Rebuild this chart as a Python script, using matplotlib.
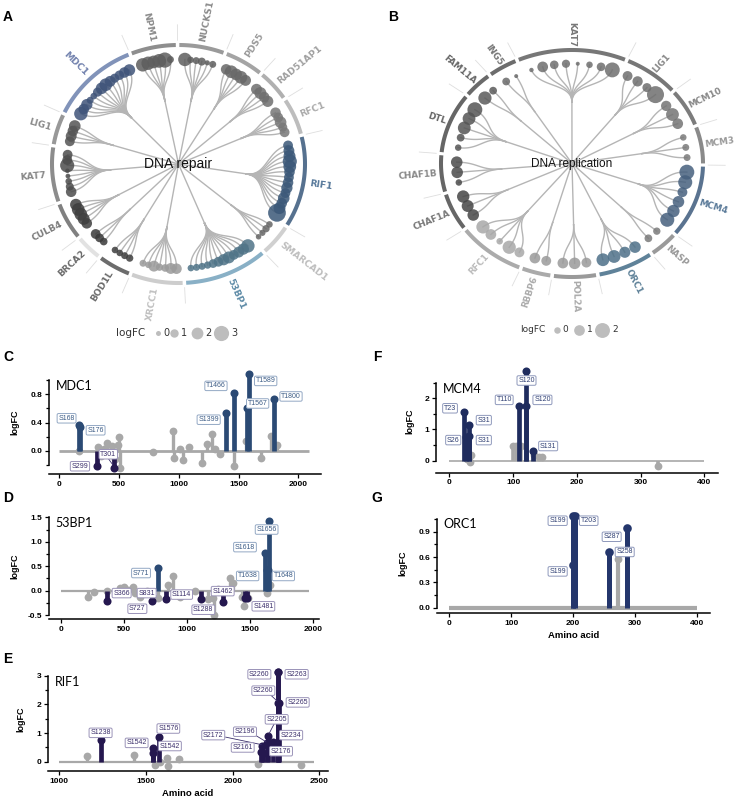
import numpy as np
import matplotlib
matplotlib.use("Agg")
import matplotlib.pyplot as plt

# ======================= DATA =======================
# Panel A : DNA repair (logFC of each phosphosite, grouped per gene, clockwise)
repair_genes = ["MDC1", "NPM1", "NUCKS1", "PDS5", "RAD51AP1", "RFC1", "RIF1", "SMARCAD1",
                "53BP1", "XRCC1", "BOD1L", "BRCA2", "CULB4", "KAT7", "LIG1"]
repair_logfc = [
    [2.2, 1.4, 1.6, 0.4, 0.3, 1.0, 1.7, 2.0, 1.5, 1.0, 1.1, 1.4, 1.7],      # MDC1
    [2.2, 2.2, 2.0, 2.3, 2.7, 0.4],                                          # NPM1
    [2.2, 0.3, 0.4, 0.7, -0.1, 0.4],                                         # NUCKS1
    [1.4, 2.0, 1.7, 2.0, 1.5],                                               # PDS5
    [1.5, 1.8, 1.4, 1.6],                                                    # RAD51AP1
    [1.4, 1.2, 1.7, 1.0, 1.2],                                               # RFC1
    [1.2, 1.5, 1.8, 2.4, 2.0, 1.4, 1.2, 1.4, 1.6, 1.2, 1.7, 1.4, 1.8, 3.4],  # RIF1
    [0.3, 0.5, 0.2, 0.0],                                                    # SMARCAD1
    [2.2, 1.6, 1.5, 1.2, 1.8, 1.6, 1.2, 0.9, 0.5, 0.4, 0.4, 0.3],            # 53BP1
    [1.4, 1.5, 0.6, 0.5, 1.5, 0.3, 0.4],                                     # XRCC1
    [0.5, 0.4, 0.3, 0.3],                                                    # BOD1L
    [0.6, 0.9, 1.2],                                                         # BRCA2
    [1.4, 1.8, 2.0, 2.0, 1.7],                                               # CULB4
    [1.4, 0.7, 0.3, -0.2, -0.3, 2.4, 1.2, 1.2],                              # KAT7
    [1.2, 1.5, 1.4, 1.7],                                                    # LIG1
]
repair_legend = [0, 1, 2, 3]

# Panel B : DNA replication
repl_genes = ["ING5", "KAT7", "LIG1", "MCM10", "MCM3", "MCM4", "NASP", "ORC1", "POL2A",
              "RBBP6", "RFC1", "CHAF1A", "CHAF1B", "DTL", "FAM11A"]
repl_logfc = [
    [0.3, -0.6],                                   # ING5
    [-0.5, 1.0, 0.5, 0.4, -0.6, 0.0, 0.5, 2.0],    # KAT7
    [0.8, 0.9, 0.6, 2.5],                          # LIG1
    [0.9, 1.5, 1.0],                               # MCM10
    [0.0, 0.1, 0.1],                               # MCM3
    [2.0, 1.8, 0.8, 1.2, 1.4, 1.8],                # MCM4
    [0.2, 0.3],                                    # NASP
    [1.2, 1.1, 1.5, 1.5],                          # ORC1
    [0.8, 1.2, 1.0],                               # POL2A
    [0.8, 1.0],                                    # RBBP6
    [0.8, 1.6, 0.0, 1.0, 1.6],                     # RFC1
    [1.2, 1.3, 1.4],                               # CHAF1A
    [0.0, 1.2, 1.2],                               # CHAF1B
    [0.0, 0.3, 1.5, 1.5, 2.0],                     # DTL
    [1.6, 0.3],                                    # FAM11A
]
repl_legend = [0, 1, 2]

# Panel C : MDC1
mdc1_gray_x = [167, 326, 350, 372, 396, 420, 440, 470, 490, 500, 508, 787, 954, 960, 1013, 1032,
               1088, 1191, 1238, 1278, 1303, 1345, 1462, 1562, 1685, 1769, 1819]
mdc1_gray_y = [0.0, 0.05, -0.08, 0.02, 0.11, -0.05, 0.06, -0.12, 0.08, 0.2, -0.25, -0.02, 0.28,
               -0.1, 0.02, -0.13, 0.05, -0.18, 0.09, 0.24, 0.02, -0.05, -0.22, 0.14, -0.11, 0.21, 0.08]
mdc1_up_x = [165, 176, 1399, 1466, 1567, 1589, 1800]
mdc1_up_y = [0.37, 0.33, 0.54, 0.82, 0.61, 1.09, 0.73]
mdc1_up_lab = ["S168", "S176", "S1399", "T1466", "T1567", "T1589", "T1800"]
mdc1_dn_x = [312, 457]
mdc1_dn_y = [-0.22, -0.24]
mdc1_dn_lab = ["S299", "T301"]
mdc1_len = 2089

# Panel D : 53BP1
bp1_gray_x = [217, 265, 363, 469, 500, 535, 570, 588, 628, 681, 773, 853, 893, 946, 1065, 1171,
              1210, 1216, 1250, 1343, 1370, 1436, 1457, 1489, 1634, 1661]
bp1_gray_y = [-0.12, -0.03, 0.0, 0.05, 0.07, 0.01, 0.07, -0.05, -0.12, 0.0, -0.15, 0.11, 0.3, -0.12,
              0.0, -0.18, -0.15, -0.49, 0.03, 0.26, 0.16, -0.12, -0.32, -0.15, -0.05, 0.12]
bp1_up_x = [771, 1618, 1656, 1638, 1648]
bp1_up_y = [0.47, 0.76, 1.42, 0.42, 0.42]
bp1_up_lab = ["S771", "S1618", "S1656", "T1638", "T1648"]
bp1_dn_x = [366, 727, 831, 1114, 1288, 1462, 1481]
bp1_dn_y = [-0.22, -0.22, -0.18, -0.18, -0.24, -0.15, -0.15]
bp1_dn_lab = ["S366", "S727", "S831", "S1114", "S1288", "S1462", "S1481"]
bp1_len = 1972

# Panel E : RIF1
rif1_gray_x = [1158, 1431, 1552, 1581, 1619, 1629, 1690, 2144, 2394]
rif1_gray_y = [0.2, 0.23, -0.12, 0.0, 0.12, -0.15, 0.09, -0.08, -0.12]
rif1_sig_x = [1238, 1538, 1542, 1577, 2161, 2172, 2176, 2196, 2205, 2234, 2260, 2263, 2260, 2265]
rif1_sig_y = [0.75, 0.47, 0.3, 0.85, 0.35, 0.55, 0.3, 0.65, 0.9, 0.7, 3.14, 3.14, 2.05, 2.05]
rif1_sig_lab = ["S1238", "S1542", "S1542", "S1576", "S2161", "S2172", "S2176", "S2196", "S2205",
                "S2234", "S2260", "S2263", "S2260", "S2265"]
rif1_range = [1000, 2472]

# Panel F : MCM4
mcm4_gray_x = [27, 32, 34, 100, 104, 108, 112, 132, 140, 146, 328]
mcm4_gray_y = [0.07, -0.03, 0.18, 0.47, 0.47, 0.47, 0.47, 0.18, 0.13, 0.13, -0.17]
mcm4_sig_x = [23, 26, 31, 31, 110, 120, 120, 131]
mcm4_sig_y = [1.55, 0.75, 1.15, 0.8, 1.76, 2.86, 1.76, 0.32]
mcm4_sig_lab = ["T23", "S26", "S31", "S31", "T110", "S120", "S120", "S131"]
mcm4_range = [0, 400]

# Panel G : ORC1
orc1_gray_x = [273]
orc1_gray_y = [0.58]
orc1_sig_x = [199, 203, 199, 258, 287]
orc1_sig_y = [1.09, 1.09, 0.5, 0.66, 0.94]
orc1_sig_lab = ["S199", "T203", "S199", "S258", "S287"]
orc1_range = [0, 400]

# ======================= STYLE =======================
W, H = 736, 801
fig = plt.figure(figsize=(W / 100, H / 100), dpi=100)
TICKFONT = "Liberation Sans"


def px_axes(left, top, right, bottom):
    ax = fig.add_axes([left / W, 1 - bottom / H, (right - left) / W, (bottom - top) / H])
    ax.set_facecolor("none")
    return ax


overlay = px_axes(0, 0, W, H)
overlay.set_xlim(0, W)
overlay.set_ylim(H, 0)
overlay.axis("off")

for letter, x, y in [("A", 8, 17), ("B", 393, 17), ("C", 8, 357), ("D", 8, 498),
                     ("E", 8, 659), ("F", 377, 357), ("G", 377, 498)]:
    overlay.text(x, y, letter, fontsize=10, fontweight="bold", family=TICKFONT,
                 ha="center", va="center")

LINK = "#b5b5b5"


def polar(theta_deg, r):
    t = np.deg2rad(theta_deg)
    return r * np.sin(t), r * np.cos(t)


def circle_panel(cx, cy, rx, ry, genes, vals, start, gap, ring_c, dot_c, lab_c,
                 title, title_fs, lab_fs, dmin, dscale, r_leaf=0.88, r_node=0.54, r_lab=1.04):
    ext = 1.6
    ax = px_axes(cx - ext * rx, cy - ext * ry, cx + ext * rx, cy + ext * ry)
    ax.set_xlim(-ext, ext)
    ax.set_ylim(-ext, ext)
    ax.axis("off")
    n_tot = sum(len(v) for v in vals)
    step = (360 - gap * len(genes)) / n_tot
    th = start
    rm = (r_node + r_leaf) / 2
    tt = np.linspace(0, 1, 40)[:, None]
    for i, g in enumerate(genes):
        n = len(vals[i])
        a0 = th
        a1 = th + gap + step * n
        th = a1
        mid = (a0 + a1) / 2
        arc = np.linspace(a0 + 0.8, a1 - 0.8, 80)
        x, y = polar(arc, 1.0)
        ax.plot(x, y, color=ring_c[i], lw=2.9, solid_capstyle="butt", zorder=2)
        bx, by = polar(np.array([a0, a0]), np.array([1.04, 1.17]))
        ax.plot(bx, by, color="#dedede", lw=0.6, zorder=1)
        nx, ny = polar(mid, r_node)
        ax.plot([0, nx], [0, ny], color=LINK, lw=1.0, zorder=1)
        leaf_th = a0 + gap / 2 + step * (np.arange(n) + 0.5)
        P0 = np.array(polar(mid, r_node))
        C1 = np.array(polar(mid, rm))
        for lt in leaf_th:
            C2 = np.array(polar(lt, rm))
            P3 = np.array(polar(lt, r_leaf))
            B = (1 - tt) ** 3 * P0 + 3 * (1 - tt) ** 2 * tt * C1 + 3 * (1 - tt) * tt ** 2 * C2 + tt ** 3 * P3
            ax.plot(B[:, 0], B[:, 1], color=LINK, lw=1.0, zorder=1)
        lx, ly = polar(leaf_th, r_leaf)
        d = np.maximum(dmin + dscale * np.array(vals[i], dtype=float), 1.5)
        ax.scatter(lx, ly, s=(d * 0.72) ** 2, color=dot_c[i], alpha=0.85, lw=0, zorder=3)
        sx, sy = polar(mid, r_lab)
        ang = np.degrees(np.arctan2(np.cos(np.radians(mid)) * ry, np.sin(np.radians(mid)) * rx))
        m = mid % 360
        if 0 < m < 180:
            rot, ha = ang, "left"
        else:
            rot, ha = ang + 180, "right"
        ax.text(sx, sy, g, rotation=rot, rotation_mode="anchor", ha=ha, va="center",
                fontsize=lab_fs, fontweight="bold", color=lab_c[i], family="DejaVu Sans", zorder=4)
    ax.text(0, 0, title, ha="center", va="center", fontsize=title_fs, family="Liberation Sans",
            color="#111111", zorder=5)
    return ax


# Panel A styles
A_ring = ["#8193b9", "#8e8e8e", "#9a9a9a", "#a4a4a4", "#b0b0b0", "#bdbdbd", "#56718f", "#d0d0d0",
          "#89b0c6", "#cdcdcd", "#6c6c6c", "#e2e2e2", "#808080", "#8c8c8c", "#989898"]
A_dot = ["#3f5479", "#5e5e5e", "#5e5e5e", "#686868", "#6e6e6e", "#777777", "#3b5878", "#666666",
         "#4f7387", "#9a9a9a", "#3e3e3e", "#3a3a3a", "#3e3e3e", "#4c4c4c", "#555555"]
A_lab = ["#7282ae", "#8a8a8a", "#8a8a8a", "#999999", "#a0a0a0", "#aaaaaa", "#56789a", "#bdbdbd",
         "#5c8aa6", "#c0c0c0", "#6a6a6a", "#6a6a6a", "#7a7a7a", "#888888", "#8a8a8a"]
circle_panel(178.5, 164, 126.5, 119, repair_genes, repair_logfc, 295, 4.5, A_ring, A_dot, A_lab,
             "DNA repair", 10, 6.6, 5.5, 3.6, r_lab=1.05)

# Panel B styles
B_ring = ["#6c6c6c", "#777777", "#777777", "#7c7c7c", "#8a8a8a", "#5a7390", "#9a9a9a", "#5f8299",
          "#9a9a9a", "#aaaaaa", "#ababab", "#666666", "#666666", "#666666", "#6a6a6a"]
B_dot = ["#6a6a6a", "#6e6e6e", "#6e6e6e", "#747474", "#7a7a7a", "#46607e", "#7a7a7a", "#4d7088",
         "#9a9a9a", "#9a9a9a", "#a8a8a8", "#454545", "#4a4a4a", "#555555", "#5a5a5a"]
B_lab = ["#777777", "#777777", "#888888", "#888888", "#999999", "#5a7a99", "#999999", "#5f8299",
         "#aaaaaa", "#aaaaaa", "#bbbbbb", "#777777", "#888888", "#666666", "#666666"]
circle_panel(572, 163.5, 131, 113.5, repl_genes, repl_logfc, 321, 2.5, B_ring, B_dot, B_lab,
             "DNA replication", 8.5, 6.3, 6.5, 4.2, r_lab=1.03)

# size legends
overlay.text(131, 333, "logFC", ha="center", va="center", fontsize=7.5, color="#333333", family="DejaVu Sans")
for v, x in zip(repair_legend, [158, 174, 197, 221]):
    d = 5 + 3.4 * v
    overlay.scatter([x], [333], s=(d * 0.72) ** 2, color="#bdbdbd", lw=0)
    overlay.text(x + d / 2 + 2.5, 333, str(v), ha="left", va="center", fontsize=7, color="#333333")
overlay.text(533, 330, "logFC", ha="center", va="center", fontsize=6.5, color="#333333", family="DejaVu Sans")
for v, x in zip(repl_legend, [557, 579, 602]):
    d = 6.5 + 4.2 * v
    overlay.scatter([x], [330], s=(d * 0.72) ** 2, color="#bdbdbd", lw=0)
    overlay.text(x + d / 2 + 2.5, 330, str(v), ha="left", va="center", fontsize=6.5, color="#333333")

# ---------------- lollipop panels ----------------
GRAY = "#a8a8a8"
BLUE = "#2b4a74"
PURP = "#25184f"
NAVY = "#1f2c5e"
STY = {
    "blue": ("#3b5b85", "#93a8c4"),
    "purp": ("#3a2e6a", "#9a93b8"),
    "navy": ("#2f3f73", "#8e98bb"),
}


def setup(box, xlim, ylim, spine_b, xticks, yticks, ytl, yminor, name, ylab_px, xlabel=False):
    left, top, right, bottom = box
    ax = px_axes(left, top, right, bottom)
    ax.set_xlim(xlim)
    ax.set_ylim(ylim)
    for s in ["top", "right"]:
        ax.spines[s].set_visible(False)
    ax.spines["left"].set_bounds(*spine_b)
    for s in ["left", "bottom"]:
        ax.spines[s].set_linewidth(1.1)
    ax.set_xticks(xticks)
    ax.set_xticklabels([str(t) for t in xticks])
    ax.set_yticks(yticks)
    ax.set_yticklabels(ytl)
    ax.set_yticks(yminor, minor=True)
    ax.tick_params(which="major", length=3.2, width=0.9, labelsize=6, pad=1.5)
    ax.tick_params(which="minor", length=2, width=0.9)
    for t in ax.get_xticklabels() + ax.get_yticklabels():
        t.set_fontweight("bold")
        t.set_family(TICKFONT)
    ax.text(0.025, 1.0, name, transform=ax.transAxes, fontsize=9, family="Lato",
            va="top", ha="left")
    ax.set_ylabel("logFC", fontsize=6.5, fontweight="bold", family=TICKFONT)
    yc = (spine_b[0] + spine_b[1]) / 2
    yc_frac = (yc - ylim[0]) / (ylim[1] - ylim[0])
    ax.yaxis.set_label_coords((ylab_px - left) / (right - left), yc_frac)
    if xlabel:
        ax.set_xlabel("Amino acid", fontsize=6.8, fontweight="bold", family=TICKFONT, labelpad=3)
    return ax


def stems(ax, x, y, color, lw, ms, z):
    ax.vlines(x, 0, y, color=color, lw=lw, zorder=z, clip_on=False)
    ax.scatter(x, y, s=ms ** 2, color=color, lw=0, zorder=z + 0.5, clip_on=False)


def lab(ax, x, y, t, sty, leader=None):
    tc, ec = STY[sty]
    ax.text(x, y, t, fontsize=5, color=tc, ha="center", va="center", family=TICKFONT, zorder=8,
            clip_on=False,
            bbox=dict(boxstyle="round,pad=0.18,rounding_size=0.2", fc="white", ec=ec, lw=0.7))
    if leader is not None:
        ax.plot(leader[0], leader[1], color=tc, lw=0.6, zorder=7, clip_on=False)


# C : MDC1
ax = setup((49, 380, 321, 474), (-86, 2190), (-0.33, 1.003), (-0.2, 1.0), [0, 500, 1000, 1500, 2000],
           [0, 0.4, 0.8], ["0.0", "0.4", "0.8"], [-0.2, 0.2, 0.6, 1.0], "MDC1", 19)
ax.plot([0, mdc1_len], [0, 0], color=GRAY, lw=2.0, zorder=1, solid_capstyle="butt")
stems(ax, mdc1_gray_x, mdc1_gray_y, GRAY, 2.4, 5.6, 2)
stems(ax, mdc1_up_x, mdc1_up_y, BLUE, 3.4, 5.8, 3)
stems(ax, mdc1_dn_x, mdc1_dn_y, PURP, 3.4, 5.8, 3)
mdc1_lab_xy = [(61, 0.46), (304, 0.29), (1250, 0.44), (1311, 0.92), (1660, 0.67), (1727, 0.99), (1939, 0.77)]
for (lx, ly), t in zip(mdc1_lab_xy, mdc1_up_lab):
    lab(ax, lx, ly, t, "blue")
lab(ax, 173, -0.22, mdc1_dn_lab[0], "purp")
lab(ax, 410, -0.05, mdc1_dn_lab[1], "purp", leader=([410, 448], [-0.11, -0.2]))

# D : 53BP1
ax = setup((49, 517.3, 319, 619), (-95, 2050), (-0.58, 1.5), (-0.5, 1.5), [0, 500, 1000, 1500, 2000],
           [-0.5, 0, 0.5, 1.0, 1.5], ["-0.5", "0.0", "0.5", "1.0", "1.5"], [-0.25, 0.25, 0.75, 1.25],
           "53BP1", 19)
ax.plot([0, bp1_len], [0, 0], color=GRAY, lw=1.6, zorder=1, solid_capstyle="butt")
stems(ax, bp1_gray_x, bp1_gray_y, GRAY, 2.4, 5.6, 2)
stems(ax, bp1_up_x, bp1_up_y, BLUE, 3.4, 5.8, 3)
stems(ax, bp1_dn_x, bp1_dn_y, PURP, 3.4, 5.8, 3)
bp1_up_xy = [(636, 0.36), (1462, 0.89), (1634, 1.25), (1483, 0.3), (1767, 0.3)]
for (lx, ly), t in zip(bp1_up_xy, bp1_up_lab):
    lab(ax, lx, ly, t, "blue")
bp1_dn_xy = [(482, -0.05), (607, -0.37), (681, -0.05), (959, -0.08), (1131, -0.39), (1285, -0.01), (1608, -0.32)]
for (lx, ly), t in zip(bp1_dn_xy, bp1_dn_lab):
    lab(ax, lx, ly, t, "purp")

# E : RIF1
ax = setup((47.7, 675.7, 328, 771), (933, 2550), (-0.32, 3.0), (0, 3.0), [1000, 1500, 2000, 2500],
           [0, 1, 2, 3], ["0", "1", "2", "3"], [0.5, 1.5, 2.5], "RIF1", 25, xlabel=True)
ax.plot(rif1_range, [0, 0], color=GRAY, lw=1.6, zorder=1, solid_capstyle="butt")
stems(ax, rif1_gray_x, rif1_gray_y, GRAY, 2.4, 5.6, 2)
stems(ax, rif1_sig_x, rif1_sig_y, PURP, 3.4, 5.8, 3)
rif1_lab_xy = [(1238, 1.01), (1446, 0.66), (1638, 0.55), (1629, 1.16), (2058, 0.5), (1888, 0.93),
               (2279, 0.37), (2071, 1.05), (2254, 1.48), (2337, 0.93), (2154, 3.05), (2369, 3.05),
               (2177, 2.48), (2375, 2.07)]
rif1_leaders = [None, None, None, None, None, ([1960, 2165], [0.86, 0.6]), None,
                ([2125, 2192], [0.95, 0.7]), ([2240, 2210], [1.33, 0.98]), None, None, None,
                ([2215, 2256], [2.35, 2.12]), None]
for (lx, ly), t, ld in zip(rif1_lab_xy, rif1_sig_lab, rif1_leaders):
    lab(ax, lx, ly, t, "purp", leader=ld)

# F : MCM4
ax = setup((435.7, 382.7, 718.3, 472.7), (-21.5, 422), (-0.385, 2.5), (0, 2.5), [0, 100, 200, 300, 400],
           [0, 1, 2], ["0", "1", "2"], [0.5, 1.5, 2.5], "MCM4", 414)
ax.plot(mcm4_range, [0, 0], color=GRAY, lw=1.2, zorder=1, solid_capstyle="butt")
stems(ax, mcm4_gray_x, mcm4_gray_y, GRAY, 2.6, 5.6, 2)
stems(ax, mcm4_sig_x, mcm4_sig_y, NAVY, 3.4, 5.8, 3)
mcm4_lab_xy = [(1, 1.68), (6, 0.66), (54, 1.3), (54, 0.66), (86, 1.95), (121, 2.57), (146, 1.95), (155, 0.47)]
for (lx, ly), t in zip(mcm4_lab_xy, mcm4_sig_lab):
    lab(ax, lx, ly, t, "navy")

# G : ORC1
ax = setup((436.7, 518, 710, 613.3), (-19.8, 420.4), (-0.066, 1.062), (0, 1.05), [0, 100, 200, 300, 400],
           [0, 0.3, 0.6, 0.9], ["0.0", "0.3", "0.6", "0.9"], [0.15, 0.45, 0.75, 1.05], "ORC1", 407,
           xlabel=True)
ax.plot(orc1_range, [0, 0], color=GRAY, lw=3.0, zorder=1, solid_capstyle="butt")
stems(ax, orc1_gray_x, orc1_gray_y, GRAY, 3.0, 5.6, 2)
stems(ax, orc1_sig_x, orc1_sig_y, "#24366c", 3.6, 6.2, 3)
orc1_lab_xy = [(175, 1.03), (225, 1.03), (175, 0.43), (283, 0.66), (262, 0.84)]
for (lx, ly), t in zip(orc1_lab_xy, orc1_sig_lab):
    lab(ax, lx, ly, t, "navy")

fig.savefig("out.png", dpi=100)
